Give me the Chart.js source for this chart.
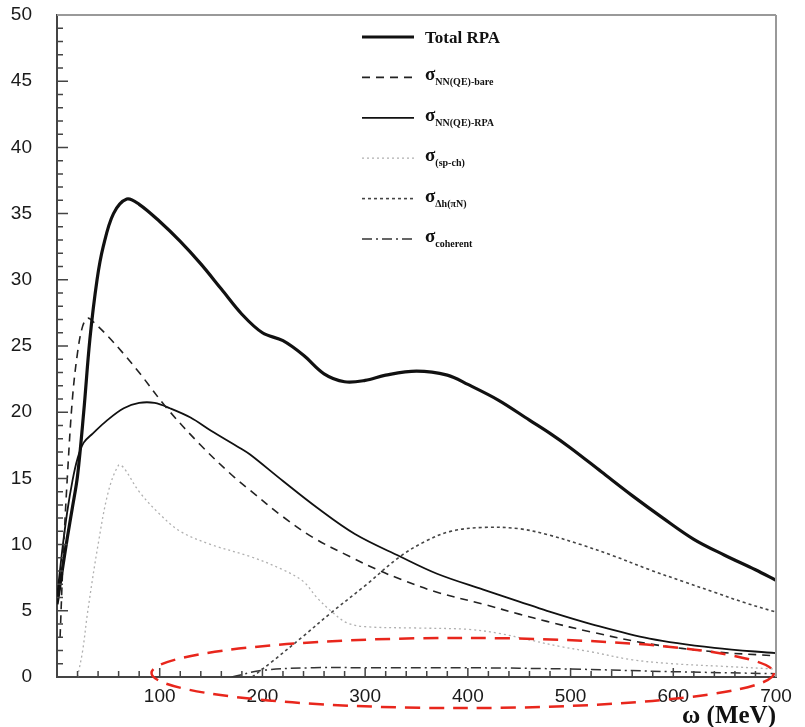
<!DOCTYPE html>
<html>
<head>
<meta charset="utf-8">
<script src="https://cdn.jsdelivr.net/npm/chart.js@4.4.1/dist/chart.umd.min.js"></script>
<style>
  html, body { margin: 0; padding: 0; background: #fff; }
  #wrap { width: 805px; height: 727px; }
</style>
</head>
<body>
<div id="wrap"><canvas id="grafico"></canvas></div>
<script>
// valores (omega em MeV, sigma)
const totalOmega = [0, 5, 10, 15, 20, 26, 32, 39, 45, 55, 68, 80, 100, 120, 140, 160, 180, 200, 220, 240, 260, 280, 300, 320, 350, 380, 400, 430, 460, 480, 500, 530, 560, 590, 620, 650, 680, 700];
const totalRPA = [5.5, 8, 10.5, 12.8, 15.2, 20, 25.5, 30, 32.5, 35, 36.1, 35.7, 34.4, 32.9, 31.2, 29.3, 27.4, 26.0, 25.4, 24.3, 22.9, 22.3, 22.4, 22.8, 23.1, 22.8, 22.1, 20.9, 19.4, 18.4, 17.3, 15.5, 13.7, 12.0, 10.4, 9.2, 8.1, 7.3];

const bareOmega = [3, 6, 10, 15, 20, 25, 30, 37, 50, 65, 81, 107, 140, 171, 188, 220, 250, 285, 312, 334, 370, 415, 450, 477, 520, 577, 640, 700];
const nnBare = [3, 9, 15, 21, 24.5, 26.5, 27.1, 26.7, 25.7, 24.4, 22.9, 20.3, 17.5, 15.2, 14.1, 12.1, 10.5, 9.1, 8.1, 7.4, 6.4, 5.5, 4.75, 4.2, 3.4, 2.5, 1.9, 1.6];

const rpaOmega = [0, 5, 10, 15, 20, 26, 35, 49, 65, 80, 95, 110, 130, 150, 178, 188, 220, 253, 290, 334, 370, 415, 450, 477, 520, 577, 640, 700];
const nnRPA = [6, 9.5, 12.5, 14.8, 16.5, 17.7, 18.4, 19.4, 20.3, 20.7, 20.7, 20.3, 19.6, 18.6, 17.3, 16.8, 14.8, 12.8, 10.8, 9.1, 7.8, 6.6, 5.7, 5.0, 4.0, 2.9, 2.2, 1.8];

const spOmega = [20, 25, 30, 40, 50, 60, 65, 80, 100, 120, 150, 188, 220, 240, 253, 268, 282, 300, 350, 400, 430, 460, 490, 520, 560, 600, 650, 700];
const spCh = [0, 2, 5, 10, 14, 16, 15.8, 14, 12.3, 11, 10, 9.1, 8.1, 7.2, 6.0, 4.9, 4.1, 3.8, 3.7, 3.6, 3.3, 2.8, 2.3, 1.9, 1.3, 1.0, 0.8, 0.6];

const deltaOmega = [190, 210, 240, 266, 300, 334, 360, 383, 415, 450, 480, 510, 540, 577, 610, 640, 670, 700];
const deltaPiN = [0, 1.2, 3.1, 4.8, 6.9, 9.1, 10.3, 11.0, 11.3, 11.2, 10.7, 10.0, 9.2, 8.1, 7.2, 6.4, 5.6, 4.9];

const cohOmega = [170, 200, 250, 300, 400, 500, 600, 700];
const coherent = [0, 0.5, 0.7, 0.7, 0.7, 0.6, 0.4, 0.25];

const xTicks = [0, 100, 200, 300, 400, 500, 600, 700];
const yTicks = [0, 5, 10, 15, 20, 25, 30, 35, 40, 45, 50];

// legenda: simbolo + indice
const legendMain = ['Total RPA', 'σ', 'σ', 'σ', 'σ', 'σ'];
const legendSub = ['', 'NN(QE)-bare', 'NN(QE)-RPA', '(sp-ch)', 'Δh(πN)', 'coherent'];

// elipse vermelha (centro e raios em unidades dos eixos)
const elipseCentro = [395, 0.3];
const elipseRaio = [303, 2.65];

function pares(xs, ys) {
    return xs.map((x, i) => ({ x: x, y: ys[i] }));
}

function serie(label, xs, ys, cor, largura, traco) {
    return {
        label: label,
        data: pares(xs, ys),
        borderColor: cor,
        borderWidth: largura,
        borderDash: traco,
        pointRadius: 0,
        fill: false,
        tension: 0.35
    };
}

// marcas internas dos eixos, legenda e elipse
const extras = {
    id: 'extras',
    afterDatasetsDraw(chart) {
        const ctx = chart.ctx;
        const xs = chart.scales.x, ys = chart.scales.y;
        const area = chart.chartArea;
        ctx.save();
        ctx.strokeStyle = '#444';
        ctx.lineWidth = 1.5;
        ctx.beginPath();
        for (let v = 0; v <= 50; v++) {
            const py = ys.getPixelForValue(v);
            const len = v % 5 === 0 ? 11 : 6;
            ctx.moveTo(area.left, py);
            ctx.lineTo(area.left + len, py);
        }
        for (let w = 20; w < 700; w += 20) {
            const px = xs.getPixelForValue(w);
            const len = w % 100 === 0 ? 9 : 6;
            ctx.moveTo(px, area.bottom);
            ctx.lineTo(px, area.bottom - len);
        }
        ctx.stroke();

        // bordas superior e direita
        ctx.strokeStyle = '#999';
        ctx.lineWidth = 2;
        ctx.beginPath();
        ctx.moveTo(area.left, area.top);
        ctx.lineTo(area.right, area.top);
        ctx.moveTo(area.right, area.top);
        ctx.lineTo(area.right, area.bottom);
        ctx.stroke();

        // legenda
        chart.data.datasets.forEach((ds, i) => {
            const y = 37 + i * 40.4;
            ctx.strokeStyle = ds.borderColor;
            ctx.lineWidth = ds.borderWidth;
            ctx.setLineDash(ds.borderDash || []);
            ctx.beginPath();
            ctx.moveTo(362, y);
            ctx.lineTo(414, y);
            ctx.stroke();
            ctx.setLineDash([]);
            ctx.fillStyle = '#111';
            ctx.textBaseline = 'alphabetic';
            ctx.textAlign = 'left';
            if (legendSub[i] === '') {
                ctx.font = 'bold 17px "Liberation Serif"';
                ctx.fillText(legendMain[i], 425, y + 6);
            } else {
                ctx.font = 'bold 19px "Liberation Serif"';
                ctx.fillText(legendMain[i], 425, y + 3);
                const w = ctx.measureText(legendMain[i]).width;
                ctx.font = 'bold 10px "Liberation Serif"';
                ctx.fillText(legendSub[i], 425 + w, y + 8);
            }
        });

        // elipse vermelha tracejada
        const cx = xs.getPixelForValue(elipseCentro[0]);
        const cy = ys.getPixelForValue(elipseCentro[1]);
        const rx = xs.getPixelForValue(elipseCentro[0] + elipseRaio[0]) - cx;
        const ry = cy - ys.getPixelForValue(elipseCentro[1] + elipseRaio[1]);
        ctx.strokeStyle = '#e8261c';
        ctx.lineWidth = 2.5;
        ctx.setLineDash([15, 9]);
        ctx.beginPath();
        ctx.ellipse(cx, cy, rx, ry, 0, 0, Math.PI * 2);
        ctx.stroke();
        ctx.restore();
    }
};

const ctx = document.getElementById('grafico').getContext('2d');
new Chart(ctx, {
    type: 'line',
    data: {
        datasets: [
            serie('Total RPA', totalOmega, totalRPA, '#111', 3.2, []),
            serie('NN(QE)-bare', bareOmega, nnBare, '#222', 1.6, [8, 6]),
            serie('NN(QE)-RPA', rpaOmega, nnRPA, '#111', 1.8, []),
            serie('(sp-ch)', spOmega, spCh, '#b0b0b0', 1.3, [2, 3]),
            serie('Δh(πN)', deltaOmega, deltaPiN, '#444', 1.6, [3, 3]),
            serie('coherent', cohOmega, coherent, '#333', 1.5, [10, 4, 2, 4])
        ]
    },
    options: {
        responsive: true,
        maintainAspectRatio: false,
        animation: false,
        layout: { padding: { top: 15, right: 29, left: 0, bottom: 0 } },
        plugins: {
            legend: { display: false },
            tooltip: { enabled: false }
        },
        scales: {
            x: {
                type: 'linear',
                min: 0,
                max: 700,
                afterFit: s => { s.height = 50; s.paddingLeft = 0; s.paddingRight = 0; },
                afterBuildTicks: s => { s.ticks = xTicks.map(v => ({ value: v })); },
                grid: { display: false },
                border: { display: true, color: '#444', width: 2 },
                ticks: {
                    padding: 0,
                    color: '#1a1a1a',
                    font: { family: 'Liberation Sans', size: 19 },
                    maxRotation: 0,
                    callback: v => (v === 0 ? '' : v)
                },
                title: {
                    display: true,
                    text: 'ω (MeV)',
                    align: 'end',
                    color: '#111',
                    padding: 0,
                    font: { family: 'Liberation Serif', size: 25, weight: 'bold', lineHeight: 0.8 }
                }
            },
            y: {
                min: 0,
                max: 50,
                afterFit: s => { s.width = 57; s.paddingTop = 0; s.paddingBottom = 0; },
                afterBuildTicks: s => { s.ticks = yTicks.map(v => ({ value: v })); },
                grid: { display: false },
                border: { display: true, color: '#444', width: 2 },
                ticks: {
                    padding: 17,
                    color: '#1a1a1a',
                    font: { family: 'Liberation Sans', size: 19 }
                }
            }
        }
    },
    plugins: [extras]
});
</script>
</body>
</html>
